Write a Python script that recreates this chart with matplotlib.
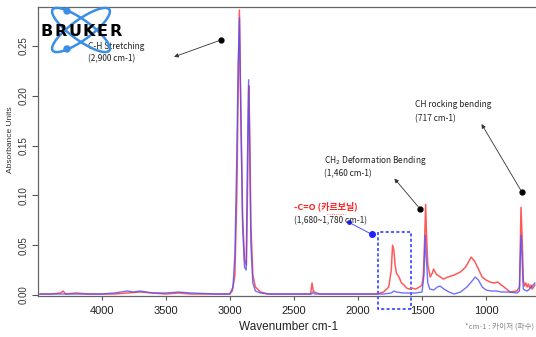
import matplotlib as mpl
import matplotlib.pyplot as plt
from matplotlib.patches import Ellipse, Circle, Rectangle

# spectrum readings (wavenumber cm-1, absorbance)
red_wn = [4480, 4400, 4320, 4300, 4280, 4200, 4100, 4000, 3900, 3800, 3700, 3600,
          3500, 3400, 3300, 3100, 3000, 2980, 2960, 2945, 2935, 2925, 2915, 2900,
          2885, 2870, 2860, 2852, 2845, 2835, 2820, 2800, 2760, 2700, 2500, 2370,
          2358, 2350, 2340, 2300, 2000, 1850, 1800, 1760, 1740, 1730, 1720, 1710,
          1700, 1680, 1660, 1640, 1620, 1600, 1580, 1550, 1520, 1500, 1490, 1480,
          1472, 1465, 1455, 1436, 1420, 1410, 1390, 1334, 1300, 1250, 1202, 1160,
          1117, 1090, 1060, 1031, 1000, 969, 940, 910, 891, 860, 814, 760, 740,
          735, 728, 720, 715, 710, 700, 690, 680, 670, 660, 650, 640, 620]
red_abs = [0.001, 0.001, 0.002, 0.004, 0.001, 0.002, 0.001, 0.001, 0.001, 0.002, 0.003, 0.002,
           0.001, 0.002, 0.001, 0.001, 0.001, 0.004, 0.02, 0.10, 0.20, 0.286, 0.20, 0.08,
           0.035, 0.03, 0.12, 0.21, 0.17, 0.07, 0.02, 0.008, 0.003, 0.001, 0.001, 0.001,
           0.012, 0.005, 0.003, 0.001, 0.001, 0.001, 0.003, 0.008, 0.025, 0.05, 0.045, 0.03,
           0.022, 0.018, 0.012, 0.01, 0.007, 0.006, 0.007, 0.006, 0.008, 0.010, 0.02, 0.055,
           0.091, 0.06, 0.03, 0.018, 0.022, 0.026, 0.021, 0.016, 0.018, 0.02, 0.023, 0.028,
           0.038, 0.034, 0.026, 0.018, 0.015, 0.013, 0.012, 0.013, 0.011, 0.008, 0.003, 0.004, 0.008,
           0.04, 0.088, 0.06, 0.04, 0.015, 0.009, 0.012, 0.008, 0.011, 0.007, 0.01, 0.006, 0.01]

blue_wn = [4480, 4300, 4100, 4000, 3900, 3850, 3800, 3750, 3700, 3650, 3600, 3500,
           3400, 3300, 3100, 3000, 2975, 2960, 2945, 2935, 2924, 2915, 2900, 2885,
           2872, 2862, 2853, 2845, 2835, 2820, 2800, 2760, 2700, 2360, 2355, 2340,
           2000, 1800, 1740, 1720, 1700, 1650, 1550, 1500, 1485, 1475, 1468, 1455,
           1440, 1410, 1380, 1360, 1330, 1290, 1250, 1200, 1150, 1110, 1085, 1060,
           1030, 1000, 960, 920, 880, 820, 760, 740, 735, 727, 720, 715, 710, 700,
           680, 660, 640, 620]
blue_abs = [0.001, 0.001, 0.001, 0.001, 0.002, 0.003, 0.004, 0.003, 0.004, 0.003, 0.002, 0.002,
            0.003, 0.002, 0.001, 0.001, 0.008, 0.04, 0.14, 0.23, 0.278, 0.19, 0.07, 0.028,
            0.025, 0.14, 0.216, 0.15, 0.05, 0.012, 0.004, 0.002, 0.001, 0.001, 0.003, 0.001,
            0.001, 0.001, 0.002, 0.004, 0.003, 0.002, 0.002, 0.003, 0.02, 0.06, 0.04, 0.012,
            0.006, 0.005, 0.008, 0.009, 0.006, 0.003, 0.001, 0.003, 0.008, 0.014, 0.018, 0.015,
            0.008, 0.005, 0.004, 0.004, 0.003, 0.003, 0.002, 0.004, 0.03, 0.06, 0.04, 0.02, 0.006, 0.005,
            0.004, 0.006, 0.009, 0.012]

x_ticks = [4000, 3500, 3000, 2500, 2000, 1500, 1000]
y_ticks = [0.00, 0.05, 0.10, 0.15, 0.20, 0.25]

kr = ['Noto Sans CJK KR', 'DejaVu Sans']
mpl.rcParams['font.family'] = ['Liberation Sans', 'DejaVu Sans']

dpi = 100
fig = plt.figure(dpi=dpi, figsize=(536 / dpi, 337 / dpi))
ax = fig.add_axes([38 / 536, 41 / 337, 498 / 536, 289 / 337])

ax.plot(red_wn, red_abs, color='#ff5a5a', lw=1.1)
ax.plot(blue_wn, blue_abs, color='#4d4dff', lw=1.0, alpha=0.8)

ax.set_xlim(4496, 611)
ax.set_ylim(-0.001, 0.289)
ax.set_xticks(x_ticks)
ax.set_yticks(y_ticks)
ax.set_yticklabels(['%.2f' % v for v in y_ticks], rotation=90, va='center')
ax.tick_params(axis='x', labelsize=8, length=3, pad=4, color='#555555', labelcolor='#222222')
ax.tick_params(axis='y', labelsize=7, length=4, pad=3, color='#555555', labelcolor='#333333')
ax.spines['right'].set_visible(False)
for s in ['left', 'bottom', 'top']:
    ax.spines[s].set_color('#666666')
    ax.spines[s].set_linewidth(0.9)

ax.set_xlabel('Wavenumber cm-1', fontsize=8.5, color='#222222')
ax.xaxis.set_label_coords(0.504, -0.088)
ax.set_ylabel('Absorbance Units', fontsize=6, color='#333333')
ax.yaxis.set_label_coords(-0.048, 0.54)

# annotations
tkw = dict(fontsize=6, family=kr, color='#222222', va='center', ha='left')
arr = dict(arrowstyle='-|>', color='#333333', lw=0.6, mutation_scale=6)

ax.text(4109, 0.249, 'C-H Stretching', **tkw)
ax.text(4109, 0.237, '(2,900 cm-1)', **tkw)
ax.annotate('', xy=(3455, 0.238), xytext=(3067, 0.256), arrowprops=arr)
ax.plot([3067], [0.256], 'o', color='black', ms=3.5)

ax.text(1552, 0.191, 'CH rocking bending', **tkw)
ax.text(1552, 0.177, '(717 cm-1)', **tkw)
ax.annotate('', xy=(1047, 0.174), xytext=(720, 0.103), arrowprops=arr)
ax.plot([720], [0.103], 'o', color='black', ms=3.5)

ax.text(2267, 0.135, 'CH$_2$ Deformation Bending', **tkw)
ax.text(2267, 0.122, '(1,460 cm-1)', **tkw)
ax.annotate('', xy=(1730, 0.119), xytext=(1513, 0.086), arrowprops=arr)
ax.plot([1513], [0.086], 'o', color='black', ms=3.5)

ax.text(2500, 0.089, '-C=O (카르보닐)', fontsize=6.5, family=kr, color='#ff2020',
        weight='bold', va='center', ha='left')
ax.plot([2240, 2100], [0.0815, 0.0815], color='#ff4040', lw=0.6, ls=':')
ax.text(2500, 0.075, '(1,680~1,780 cm-1)', **tkw)
ax.plot([2072, 1894], [0.073, 0.061], color='#4d4dff', lw=0.7)
ax.plot([2072], [0.073], 'o', color='#2020ff', ms=2.5)
ax.plot([1894], [0.061], 'o', color='#2020ff', ms=4)
ax.add_patch(Rectangle((1583, -0.014), 264, 0.077, fill=False, ec='#2030ff',
                       lw=1.1, ls=(0, (2, 1.5)), clip_on=False))

fig.text(465 / 536, 1 - 327 / 337, '*cm-1 : 카이저 (파수)', fontsize=5.5, family=kr,
         color='#888888', va='center', ha='left')

# logo overlay in pixel coordinates
lax = fig.add_axes([0, 0, 1, 1])
lax.set_xlim(0, 536)
lax.set_ylim(337, 0)
lax.axis('off')
lax.add_patch(Ellipse((81, 30), 70, 20, angle=36, fill=False, ec='#3a8ee6', lw=1.8))
lax.add_patch(Ellipse((81, 30), 70, 20, angle=-36, fill=False, ec='#3a8ee6', lw=1.8))
lax.add_patch(Circle((67, 11), 3, color='#3a8ee6'))
lax.add_patch(Circle((67, 49), 3, color='#3a8ee6'))
for i, ch in enumerate('BRUKER'):
    lax.text(47 + i * 13.8, 31, ch, fontsize=11.5, weight='bold', family='DejaVu Sans',
             color='black', ha='center', va='center')

fig.savefig('out.png', dpi=dpi)
